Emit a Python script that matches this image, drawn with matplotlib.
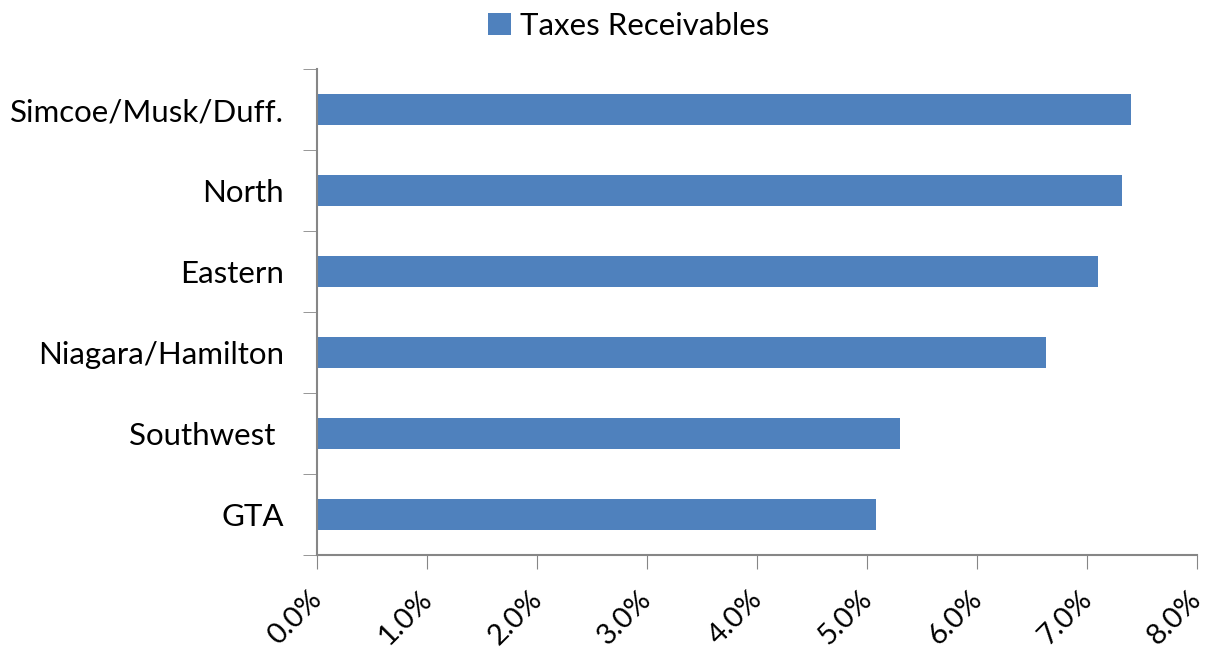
import matplotlib.pyplot as plt
import matplotlib.transforms as mtransforms
from matplotlib.ticker import FuncFormatter, MultipleLocator

regions = ['GTA', 'Southwest ', 'Niagara/Hamilton', 'Eastern', 'North', 'Simcoe/Musk/Duff.']
taxes_receivables = [5.08, 5.30, 6.63, 7.10, 7.32, 7.40]

plt.rcParams['font.family'] = ['Lato', 'DejaVu Sans']

fig = plt.figure(figsize=(12.09, 6.5), dpi=100)
ax = fig.add_axes([0.2622, 0.1462, 0.7276, 0.7476])

ax.barh(range(len(regions)), taxes_receivables, height=0.385, color='#4F81BD',
        label='Taxes Receivables')

ax.set_xlim(0, 8)
ax.set_ylim(-0.5, len(regions) - 0.5)
ax.xaxis.set_major_locator(MultipleLocator(1))
ax.xaxis.set_major_formatter(FuncFormatter(lambda v, p: f'{v:.1f}%'))

# category labels without ticks, ticks at category boundaries
ax.set_yticks(range(len(regions)))
ax.set_yticklabels(regions, fontsize=22.5)
ax.tick_params(axis='y', length=0, pad=24)
ax.set_yticks([i - 0.5 for i in range(len(regions) + 1)], minor=True)
ax.tick_params(axis='y', which='minor', length=10, color='#868686', direction='out')

ax.tick_params(axis='x', length=10, color='#868686', labelsize=21, pad=12)
shift = mtransforms.ScaledTranslation(-6 / 72, 0, fig.dpi_scale_trans)
for lbl in ax.get_xticklabels():
    lbl.set_rotation(45)
    lbl.set_ha('right')
    lbl.set_va('top')
    lbl.set_rotation_mode('anchor')
    lbl.set_transform(lbl.get_transform() + shift)

for side in ['top', 'right']:
    ax.spines[side].set_visible(False)
for side in ['left', 'bottom']:
    ax.spines[side].set_color('#868686')
    ax.spines[side].set_linewidth(1.5)

fig.legend(loc='upper center', bbox_to_anchor=(0.52, 1.025), frameon=False,
           fontsize=22.5, handlelength=0.75, handleheight=0.75, handletextpad=0.3)

fig.savefig('out.png', dpi=100)
